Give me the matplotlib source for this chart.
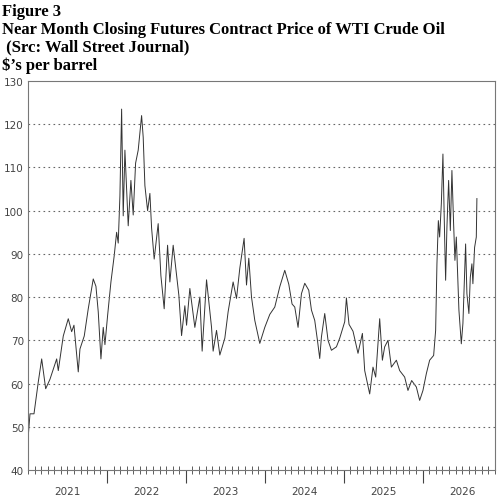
import matplotlib
matplotlib.use("Agg")
import matplotlib.pyplot as plt
import numpy as np

# pixel-read positions converted to decimal years
years_x = [28.3,30,34,38.3,41.7,45.7,50,56.7,58.3,63.3,68.3,71.7,74,78.3,80,84.3,88.3,93.3,96,98.3,101,103.3,105,107.7,111,114.3,116.7,118.3,120,121.7,123.3,125,128.3,131,133.3,135.7,138.3,141.7,143.3,145,147.7,150,151.7,154.3,158.3,161,164.3,167.7,170,173.3,176.7,179,181.7,
           185,186.7,190,195,200,202.3,206.7,211.7,213.3,216.7,220,225,228.3,233.3,236.7,240,244.3,246.7,249,251.7,255,260,265,270,275,280,285,289,292.3,295,298.3,301.7,305,309,311.7,315,317.7,320,321.7,325,328.3,331.7,336.7,
           340,345,346.7,349.3,353.3,358.3,362.7,365,370,373.3,376,380,382.7,385,388.3,391.7,396.7,400,405,408.3,412,416.7,420,423.3,426.7,430,434,436,437.3,438.7,440,441.7,443.3,445,446,447.3,449,450.7,452.3,454,455.3,456.7,459.3,461.7,463.3,466,467.3,469.3,470.7,472.3,473.3,475,476.7,477.3]
price = [48.0,53,53,60.4,65.7,58.8,61,65.7,63,71,75,72,73.5,62.7,68,71,77.3,84.2,82.5,76.6,65.7,73,69,75.8,83.5,89.6,95,92.5,103.4,123.5,98.8,114,96.5,107,99,111,114,122,117,105.8,100,104,96,88.8,97,85,77.3,92,83.5,92,85,80.4,71.1,
         78,73.5,82,73,80,67.5,84,73,67.5,72.3,66.6,70.5,76.6,83.5,79.7,86.7,93.6,82.8,89,80,74.6,69.3,73,76,77.7,82.4,86.2,83,78.4,77.7,73,80.8,83.2,81.6,77,74.6,70,65.8,70.8,76.2,70,67.7,68.5,
         70.5,74.3,79.8,73.7,72.1,67,71.6,63,57.6,63.8,61.5,75,65.4,68.5,70,63.8,65.4,63,61.5,58.4,60.7,59.2,56.1,58.4,62.3,65.4,66.5,72.3,87.7,97.7,93.9,101.6,113.1,93.9,83.9,96.2,107,95.4,109.3,96.9,88.5,93.9,77,69.2,73.9,92.3,80.8,76.2,84.6,87.7,83.1,91.5,93.9,102.8]
year_labels = ["2021","2022","2023","2024","2025","2026"]
yticks = [40,50,60,70,80,90,100,110,120,130]

W, H = 497, 502
fig = plt.figure(figsize=(W/100, H/100), dpi=100)
x0, x1, ytop, ybot = 28, 495, 82, 471
ax = fig.add_axes([x0/W, 1-ybot/H, (x1-x0)/W, (ybot-ytop)/H])
t = 2021 + (np.array(years_x) - 28) / 79.0
ax.plot(t, price, color="#333333", lw=0.7)
ax.set_xlim(2021, 2021 + (x1 - 28) / 79.0)
ax.set_ylim(40, 130)
for v in yticks[1:-1]:
    ax.axhline(v, color="#666666", lw=0.8, ls=(0, (1.5, 3)))
ax.set_yticks(yticks)
ax.set_yticklabels([str(v) for v in yticks], fontsize=7.5, color="#444444")
ax.tick_params(axis="y", length=0, pad=3)
major = [2022, 2023, 2024, 2025, 2026]
ax.set_xticks(major)
ax.set_xticklabels([])
ax.set_xticks(np.arange(2021, 2026.95, 1/12), minor=True)
ax.tick_params(axis="x", which="major", direction="out", length=9, color="#444444")
ax.tick_params(axis="x", which="minor", direction="inout", length=6, color="#444444")
for i, lab in enumerate(year_labels):
    ax.text(2021.5 + i, -0.055, lab, transform=ax.get_xaxis_transform(), ha="center", va="center", fontsize=7.5, color="#444444")
for s in ax.spines.values():
    s.set_color("#777777"); s.set_linewidth(0.8)

tkw = dict(family="Liberation Serif", weight="bold", fontsize=12, ha="left", va="center")
fig.text(2/W, 1-12/H, "Figure 3", **tkw)
fig.text(2/W, 1-30/H, "Near Month Closing Futures Contract Price of WTI Crude Oil", **tkw)
fig.text(2/W, 1-47/H, " (Src: Wall Street Journal)", **tkw)
fig.text(2/W, 1-66/H, "$\u2019s per barrel", **tkw)
fig.savefig("out.png", dpi=100)
